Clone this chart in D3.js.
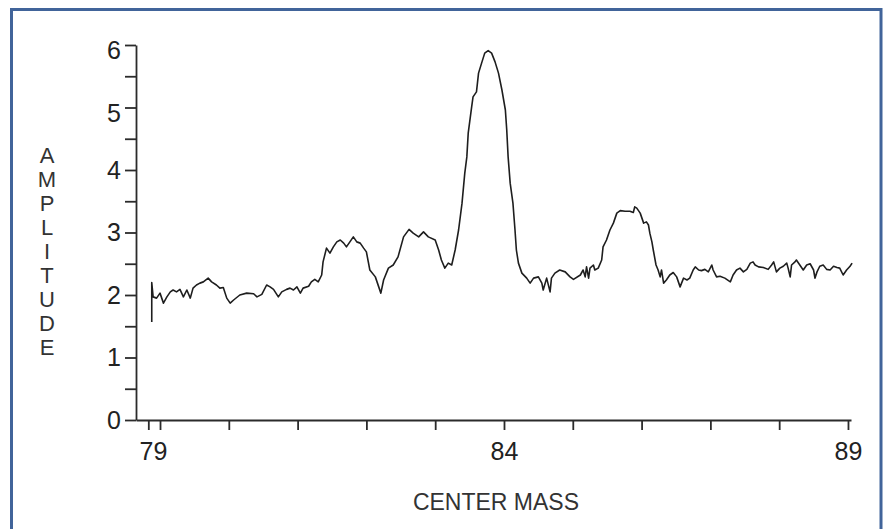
<!DOCTYPE html>
<html>
<head>
<meta charset="utf-8">
<script src="https://cdn.jsdelivr.net/npm/d3@7"></script>
<style>
    body { margin: 0; background: #fff; }
    svg { display: block; font-family: "Liberation Sans", Arial, sans-serif; }
</style>
</head>
<body>
<svg id="chart" width="885" height="529"></svg>
<script>
// trace: center mass and amplitude, point by point
const mass = [
    78.88, 78.88, 78.90, 78.95, 79.00, 79.05, 79.10, 79.15, 79.19, 79.24,
    79.29, 79.34, 79.39, 79.44, 79.48, 79.53, 79.58, 79.63, 79.70, 79.75,
    79.82, 79.87, 79.92, 79.97, 80.02, 80.07, 80.16, 80.26, 80.36, 80.41,
    80.48, 80.55, 80.60, 80.65, 80.72, 80.77, 80.84, 80.89, 80.94, 80.99,
    81.04, 81.08, 81.16, 81.20, 81.25, 81.30, 81.35, 81.37, 81.42, 81.47,
    81.52, 81.57, 81.62, 81.67, 81.71, 81.76, 81.81, 81.86, 81.91, 81.96,
    82.00, 82.05, 82.13, 82.21, 82.25, 82.32, 82.39, 82.46, 82.54, 82.62,
    82.68, 82.76, 82.83, 82.90, 83.00, 83.05, 83.09, 83.14, 83.19, 83.24,
    83.29, 83.34, 83.39, 83.43, 83.46, 83.48, 83.53, 83.55, 83.60, 83.63,
    83.68, 83.72, 83.77, 83.82, 83.87, 83.92, 83.97, 84.02, 84.04, 84.06,
    84.09, 84.13, 84.16, 84.18, 84.21, 84.26, 84.33, 84.38, 84.43, 84.50,
    84.55, 84.57, 84.62, 84.67, 84.69, 84.74, 84.81, 84.89, 84.96, 85.01,
    85.11, 85.15, 85.18, 85.20, 85.23, 85.25, 85.30, 85.32, 85.37, 85.42,
    85.44, 85.49, 85.54, 85.59, 85.64, 85.69, 85.76, 85.83, 85.88, 85.90,
    85.93, 85.98, 86.03, 86.07, 86.10, 86.12, 86.15, 86.17, 86.21, 86.24,
    86.27, 86.29, 86.32, 86.36, 86.41, 86.46, 86.51, 86.56, 86.61, 86.66,
    86.70, 86.75, 86.78, 86.83, 86.87, 86.92, 86.97, 87.02, 87.04, 87.09,
    87.14, 87.21, 87.29, 87.33, 87.38, 87.43, 87.48, 87.53, 87.58, 87.62,
    87.65, 87.70, 87.77, 87.84, 87.89, 87.92, 87.96, 88.01, 88.06, 88.11,
    88.13, 88.16, 88.18, 88.23, 88.25, 88.30, 88.35, 88.40, 88.45, 88.50,
    88.52, 88.55, 88.59, 88.64, 88.69, 88.74, 88.79, 88.84, 88.88, 88.93,
    88.98, 89.03, 89.06
];
const amplitude = [
    1.57, 2.20, 1.97, 1.95, 2.03, 1.87, 1.97, 2.05, 2.08, 2.05,
    2.09, 1.97, 2.08, 1.95, 2.11, 2.16, 2.19, 2.21, 2.27, 2.21,
    2.16, 2.11, 2.12, 1.95, 1.87, 1.92, 2.00, 2.03, 2.02, 1.97,
    2.01, 2.16, 2.13, 2.09, 1.97, 2.05, 2.09, 2.11, 2.08, 2.13,
    2.03, 2.11, 2.14, 2.21, 2.25, 2.21, 2.32, 2.53, 2.75, 2.67,
    2.77, 2.85, 2.88, 2.83, 2.77, 2.85, 2.93, 2.85, 2.83, 2.75,
    2.69, 2.40, 2.29, 2.03, 2.24, 2.43, 2.48, 2.61, 2.93, 3.05,
    2.99, 2.93, 3.01, 2.93, 2.88, 2.72, 2.56, 2.43, 2.51, 2.48,
    2.72, 3.04, 3.47, 3.95, 4.21, 4.59, 5.01, 5.17, 5.25, 5.55,
    5.73, 5.87, 5.91, 5.87, 5.73, 5.55, 5.28, 4.96, 4.64, 4.21,
    3.79, 3.47, 3.04, 2.72, 2.51, 2.35, 2.27, 2.19, 2.27, 2.29,
    2.19, 2.08, 2.27, 2.05, 2.27, 2.35, 2.40, 2.37, 2.29, 2.25,
    2.32, 2.40, 2.29, 2.45, 2.27, 2.43, 2.48, 2.40, 2.43, 2.56,
    2.77, 2.88, 3.04, 3.15, 3.31, 3.35, 3.34, 3.34, 3.32, 3.41,
    3.39, 3.31, 3.15, 3.17, 3.12, 2.99, 2.85, 2.72, 2.48, 2.40,
    2.29, 2.40, 2.19, 2.24, 2.32, 2.36, 2.29, 2.13, 2.27, 2.24,
    2.27, 2.40, 2.45, 2.40, 2.39, 2.41, 2.37, 2.48, 2.40, 2.29,
    2.30, 2.27, 2.21, 2.32, 2.40, 2.43, 2.37, 2.41, 2.51, 2.53,
    2.48, 2.45, 2.44, 2.41, 2.48, 2.53, 2.37, 2.43, 2.46, 2.51,
    2.43, 2.29, 2.48, 2.53, 2.56, 2.48, 2.40, 2.48, 2.50, 2.40,
    2.27, 2.37, 2.46, 2.48, 2.41, 2.40, 2.46, 2.44, 2.43, 2.32,
    2.40, 2.46, 2.51
];

const xTicks = [78.83, 79, 80, 81, 82, 83, 84, 85, 86, 87, 88, 89];
const xLabels = [79, 84, 89];
const yTicks = d3.range(0, 6.01, 0.5);
const yLabels = [0, 1, 2, 3, 4, 5, 6];
const yTitle = "AMPLITUDE";
const xTitle = "CENTER MASS";

const svg = d3.select('#chart');
const ink = '#2b2b2b';

// blue frame, bottom edge runs off the page
svg.append('rect')
    .attr('x', 11.5)
    .attr('y', 9.5)
    .attr('width', 869.5)
    .attr('height', 600)
    .attr('fill', 'none')
    .attr('stroke', '#41649a')
    .attr('stroke-width', 3);

const x = d3.scaleLinear()
    .domain([78.651, 89.044])
    .range([136, 851]);
const y = d3.scaleLinear()
    .domain([0, 6])
    .range([420, 45]);

// y axis
const yAxis = svg.append('g')
    .attr('transform', 'translate(136,0)')
    .call(d3.axisLeft(y)
        .tickValues(yTicks)
        .tickSize(11)
        .tickSizeOuter(0)
        .tickPadding(4)
        .tickFormat(d => yLabels.includes(d) ? d : ''));

// x axis
const xAxis = svg.append('g')
    .attr('transform', 'translate(0,420)')
    .call(d3.axisBottom(x)
        .tickValues(xTicks)
        .tickSize(10)
        .tickSizeOuter(0)
        .tickPadding(12)
        .tickFormat(d => xLabels.includes(d) ? d : ''));

[yAxis, xAxis].forEach(g => {
    g.selectAll('path, line')
        .attr('stroke', ink)
        .attr('stroke-width', 1.8);
    g.selectAll('text')
        .attr('fill', '#222')
        .style('font-size', '25px');
});

// the 79 label sits a little left of its tick in the scan
xAxis.selectAll('text')
    .filter(d => d === 79)
    .attr('dx', -7);

// the top labels hang a bit below their ticks
yAxis.selectAll('text')
    .filter(d => d >= 5)
    .attr('dy', '0.55em');

// trace
const points = mass.map((m, i) => [m, amplitude[i]]);
const line = d3.line()
    .x(d => x(d[0]))
    .y(d => y(d[1]));

svg.append('path')
    .attr('d', line(points))
    .attr('fill', 'none')
    .attr('stroke', '#1e1e1e')
    .attr('stroke-width', 1.6)
    .attr('stroke-linejoin', 'round');

// titles
svg.append('g')
    .selectAll('text')
    .data(yTitle.split(''))
    .enter()
    .append('text')
    .attr('x', 47)
    .attr('y', (d, i) => 163 + i * 24)
    .attr('text-anchor', 'middle')
    .attr('fill', '#333')
    .style('font-size', '22px')
    .text(d => d);

svg.append('text')
    .attr('x', 496)
    .attr('y', 510)
    .attr('text-anchor', 'middle')
    .attr('fill', '#333')
    .style('font-size', '23px')
    .text(xTitle);
</script>
</body>
</html>
